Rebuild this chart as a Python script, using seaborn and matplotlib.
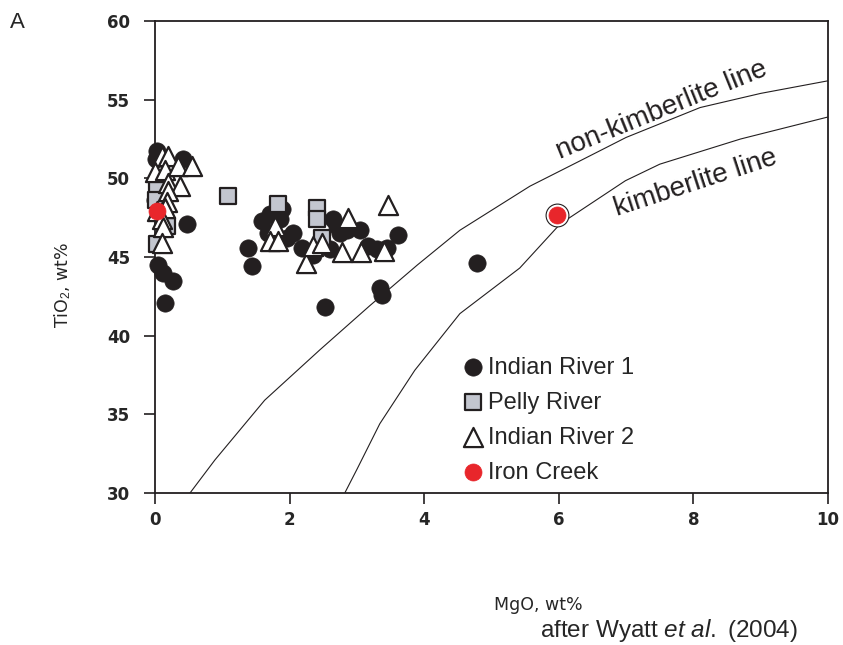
import pandas as pd
import matplotlib.pyplot as plt
import seaborn as sns

# Indian River 1 (black circles)
ir1_mgo = [0.03, 0.02, 0.42, 0.0, 0.47, 0.05, 0.12, 0.27, 0.15,
           1.38, 1.44, 1.59, 1.71, 1.89, 1.86, 1.68, 2.05, 1.96, 2.18, 2.35,
           2.53, 2.65, 2.70, 2.75, 2.85, 3.05, 2.60, 3.17, 3.30, 3.44, 3.61,
           3.34, 3.38, 4.78]
ir1_tio2 = [51.75, 51.2, 51.2, 48.6, 47.1, 44.5, 44.0, 43.5, 42.05,
            45.6, 44.45, 47.3, 47.75, 48.05, 47.4, 46.5, 46.5, 46.2, 45.6, 45.1,
            41.8, 47.4, 47.0, 46.5, 46.7, 46.7, 45.5, 45.7, 45.5, 45.6, 46.4,
            43.05, 42.6, 44.6]

# Pelly River (grey squares)
pr_mgo = [0.03, 0.02, 0.18, 0.03, 1.09, 1.82, 2.41, 2.41, 2.48]
pr_tio2 = [49.5, 48.6, 47.0, 45.85, 48.9, 48.4, 48.1, 47.4, 46.2]

# Indian River 2 (open triangles)
ir2_mgo = [0.10, 0.20, 0.0, 0.15, 0.34, 0.55, 0.20, 0.37, 0.20, 0.18,
           0.15, 0.03, 0.10, 0.12, 0.10,
           1.78, 1.71, 1.83, 2.24, 2.35, 2.48, 2.87, 2.78, 3.06, 3.40, 3.46]
ir2_tio2 = [51.4, 51.4, 50.4, 50.5, 50.8, 50.8, 49.7, 49.5, 49.2, 48.5,
            48.1, 47.9, 47.4, 46.9, 45.9,
            47.0, 46.0, 46.0, 44.6, 45.7, 45.9, 47.5, 45.3, 45.3, 45.4, 48.3]

# Iron Creek (red circles)
ic_mgo = [0.03, 5.98]
ic_tio2 = [47.9, 47.7]

# reference lines
nonkim_mgo = [0.52, 0.89, 1.63, 2.45, 3.19, 3.9, 4.53, 5.57, 6.31, 7.0, 8.1, 9.0, 10.0]
nonkim_tio2 = [30.0, 32.1, 35.9, 39.1, 41.9, 44.5, 46.7, 49.5, 51.1, 52.6, 54.5, 55.4, 56.2]
kim_mgo = [2.82, 3.0, 3.34, 3.86, 4.53, 5.42, 6.02, 6.99, 7.5, 8.7, 10.0]
kim_tio2 = [30.0, 31.5, 34.4, 37.8, 41.4, 44.3, 47.1, 49.85, 50.9, 52.5, 53.9]

sns.set_style("ticks")
plt.rcParams['font.family'] = ['Liberation Sans', 'DejaVu Sans']
plt.rcParams['mathtext.fontset'] = 'custom'
plt.rcParams['mathtext.rm'] = 'Liberation Sans'
plt.rcParams['mathtext.it'] = 'Liberation Sans:italic'

fig = plt.figure(figsize=(8.43, 6.45), dpi=100)
ax = fig.add_axes([0.1839, 0.2357, 0.7983, 0.7317])

black = '#231f20'

sns.lineplot(x=nonkim_mgo, y=nonkim_tio2, ax=ax, color=black, lw=0.8,
             estimator=None, sort=False, zorder=1)
sns.lineplot(x=kim_mgo, y=kim_tio2, ax=ax, color=black, lw=0.8,
             estimator=None, sort=False, zorder=1)

sns.scatterplot(x=ir1_mgo, y=ir1_tio2, ax=ax, marker='o', s=155,
                color=black, edgecolor=black, linewidth=0.5,
                label='Indian River 1', zorder=3, clip_on=False)
sns.scatterplot(x=pr_mgo, y=pr_tio2, ax=ax, marker='s', s=120,
                color='#c3c6cf', edgecolor=black, linewidth=1.6,
                label='Pelly River', zorder=4, clip_on=False)
sns.scatterplot(x=ir2_mgo, y=ir2_tio2, ax=ax, marker='^', s=190,
                color='white', edgecolor=black, linewidth=1.6,
                label='Indian River 2', zorder=5, clip_on=False)
# ring around the second Iron Creek sample
sns.scatterplot(x=ic_mgo[1:], y=ic_tio2[1:], ax=ax, marker='o', s=270,
                color='white', edgecolor=black, linewidth=0.8, zorder=6)
sns.scatterplot(x=ic_mgo, y=ic_tio2, ax=ax, marker='o', s=150,
                color='#e8262b', edgecolor='#e8262b', linewidth=0.5,
                label='Iron Creek', zorder=7, clip_on=False)

ax.set_xlim(0, 10)
ax.set_ylim(30, 60)
ax.set_xticks([0, 2, 4, 6, 8, 10])
ax.set_yticks([30, 35, 40, 45, 50, 55, 60])
for lab in ax.get_xticklabels() + ax.get_yticklabels():
    lab.set_fontfamily('DejaVu Sans')
    lab.set_fontweight('bold')
    lab.set_fontsize(12)
ax.tick_params(axis='x', direction='out', length=8, width=1.2, pad=5, color=black)
ax.tick_params(axis='y', direction='out', length=8, width=1.2, pad=10, color=black)
for sp in ax.spines.values():
    sp.set_linewidth(1.3)
    sp.set_color(black)

ax.set_xlabel('MgO, wt%', fontsize=12.5, family='DejaVu Sans')
ax.xaxis.set_label_coords(0.57, -0.218)
ax.set_ylabel('TiO$_2$, wt%', fontsize=12.5, family='DejaVu Sans')
ax.yaxis.set_label_coords(-0.122, 0.44)

ax.text(7.53, 54.3, 'non-kimberlite line', rotation=22, fontsize=20,
        ha='center', va='center', color=black)
ax.text(8.04, 49.7, 'kimberlite line', rotation=18, fontsize=20,
        ha='center', va='center', color=black)

leg = ax.legend(loc='upper left', bbox_to_anchor=(0.444, 0.309), frameon=False,
                fontsize=17, handlelength=0.8, handletextpad=0.25,
                labelspacing=0.55, borderaxespad=0)

fig.text(0.012, 0.965, 'A', fontsize=16, ha='left', va='center')
fig.text(0.64, 0.023, 'after Wyatt $\\mathit{et\\ al.}$ (2004)', fontsize=17.5,
         ha='left', va='center')

plt.savefig('out.png', dpi=100)
